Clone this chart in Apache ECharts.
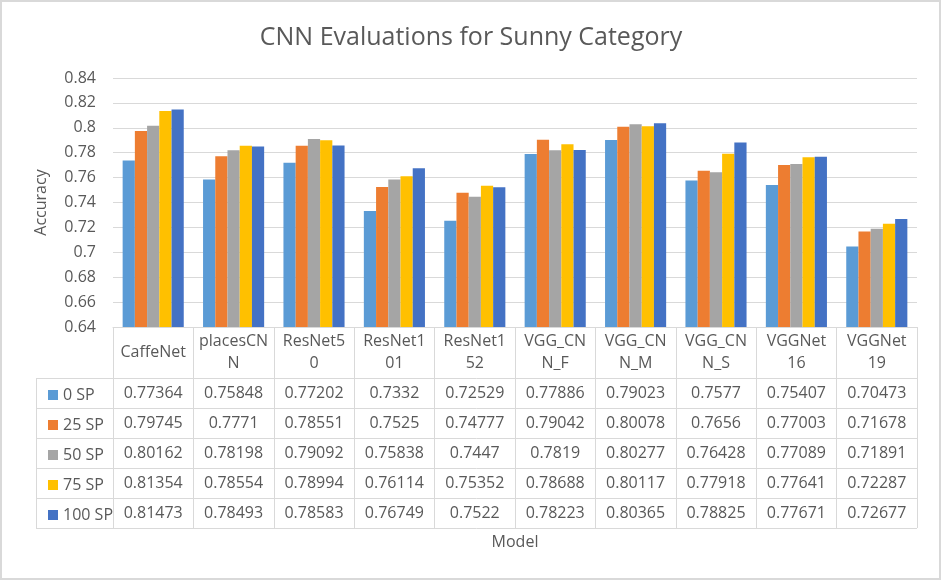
<!DOCTYPE html>
<html>
<head>
<meta charset="utf-8">
<script src="https://cdn.jsdelivr.net/npm/echarts@6/dist/echarts.min.js"></script>
<style>
html,body{margin:0;padding:0;background:#fff;}
#c{width:942px;height:581px;}
</style>
</head>
<body>
<div id="c"></div>
<script>
const categories = ['CaffeNet','placesCNN','ResNet50','ResNet101','ResNet152','VGG_CNN_F','VGG_CNN_M','VGG_CNN_S','VGGNet16','VGGNet19'];
const tickLabels = ['CaffeNet','placesCN\nN','ResNet5\n0','ResNet1\n01','ResNet1\n52','VGG_CN\nN_F','VGG_CN\nN_M','VGG_CN\nN_S','VGGNet\n16','VGGNet\n19'];
const seriesNames = ['0 SP','25 SP','50 SP','75 SP','100 SP'];
const sp0   = [0.77364,0.75848,0.77202,0.7332,0.72529,0.77886,0.79023,0.7577,0.75407,0.70473];
const sp25  = [0.79745,0.7771,0.78551,0.7525,0.74777,0.79042,0.80078,0.7656,0.77003,0.71678];
const sp50  = [0.80162,0.78198,0.79092,0.75838,0.7447,0.7819,0.80277,0.76428,0.77089,0.71891];
const sp75  = [0.81354,0.78554,0.78994,0.76114,0.75352,0.78688,0.80117,0.77918,0.77641,0.72287];
const sp100 = [0.81473,0.78493,0.78583,0.76749,0.7522,0.78223,0.80365,0.78825,0.77671,0.72677];
const yTicks = ['0.64','0.66','0.68','0.7','0.72','0.74','0.76','0.78','0.8','0.82','0.84'];

const seriesData = [sp0, sp25, sp50, sp75, sp100];
const colors = ['#5b9bd5','#ed7d31','#a5a5a5','#ffc000','#4472c4'];
const txt = '#595959';
const lineC = '#d9d9d9';
const font = 'Open Sans';

const W = 942, H = 581;
const gL = 113, gR = 917, gT = 78, gB = 327;
const headerH = 51, rowH = 30, legL = 36;
const tableBottom = gB + headerH + rowH * seriesData.length;

const xAxes = [{
  type: 'category', data: categories, gridIndex: 0, position: 'bottom',
  axisLine: {show: true, lineStyle: {color: lineC, width: 1}},
  axisTick: {show: true, length: tableBottom - gB, lineStyle: {color: lineC, width: 1}},
  axisLabel: {interval: 0, margin: headerH / 2, verticalAlign: 'middle', lineHeight: 22,
    fontFamily: font, fontSize: 16, color: txt,
    formatter: (v, i) => tickLabels[i]},
  name: 'Model', nameLocation: 'middle', nameGap: 207,
  nameTextStyle: {fontFamily: font, fontSize: 16, color: txt}
}];
seriesData.forEach((arr, k) => {
  xAxes.push({
    type: 'category', data: categories, gridIndex: 0, position: 'bottom',
    offset: headerH + rowH * k + rowH / 2,
    axisLine: {show: false}, axisTick: {show: false}, splitLine: {show: false},
    axisLabel: {interval: 0, margin: 0, verticalAlign: 'middle',
      fontFamily: font, fontSize: 16, color: txt,
      formatter: (v, i) => String(arr[i])}
  });
});

const graphics = [{
  type: 'rect', shape: {x: 1, y: 1, width: W - 3, height: H - 3},
  style: {fill: 'none', stroke: lineC, lineWidth: 2}, silent: true
}];
for (let k = 0; k <= seriesData.length; k++) {
  const y = gB + headerH + rowH * k + 0.5;
  graphics.push({type: 'line', shape: {x1: legL, y1: y, x2: gR, y2: y},
    style: {stroke: lineC, lineWidth: 1}, silent: true});
}
graphics.push({type: 'line', shape: {x1: legL + 0.5, y1: gB + headerH, x2: legL + 0.5, y2: tableBottom},
  style: {stroke: lineC, lineWidth: 1}, silent: true});

const chart = echarts.init(document.getElementById('c'), null, {renderer: 'canvas'});
chart.setOption({
  backgroundColor: '#fff',
  animation: false,
  title: {text: 'CNN Evaluations for Sunny Category', left: 'center', top: 20,
    textStyle: {fontFamily: font, fontSize: 25, fontWeight: 'normal', color: txt}},
  legend: {orient: 'vertical', left: 43, top: gB + headerH + 2, itemGap: 10,
    itemWidth: 10, itemHeight: 10, icon: 'rect', itemStyle: {borderWidth: 0},
    textStyle: {fontFamily: font, fontSize: 16, color: txt, lineHeight: 20},
    data: seriesNames},
  grid: {left: gL, right: W - gR, top: gT, bottom: H - gB, containLabel: false},
  xAxis: xAxes,
  yAxis: {type: 'value', min: 0.64, max: 0.84, interval: 0.02,
    axisLine: {show: false}, axisTick: {show: false},
    splitLine: {lineStyle: {color: lineC, width: 1}},
    axisLabel: {margin: 17, fontFamily: font, fontSize: 16, color: txt,
      formatter: (v) => yTicks[Math.round((v - 0.64) / 0.02)]},
    name: 'Accuracy', nameLocation: 'middle', nameGap: 64, nameRotate: 90,
    nameTextStyle: {fontFamily: font, fontSize: 16, color: txt}},
  series: seriesData.map((arr, k) => ({
    name: seriesNames[k], type: 'bar', data: arr, xAxisIndex: 0,
    barGap: '0%', barCategoryGap: '24%',
    itemStyle: {color: colors[k]}
  })),
  graphic: graphics
});
</script>
</body>
</html>
